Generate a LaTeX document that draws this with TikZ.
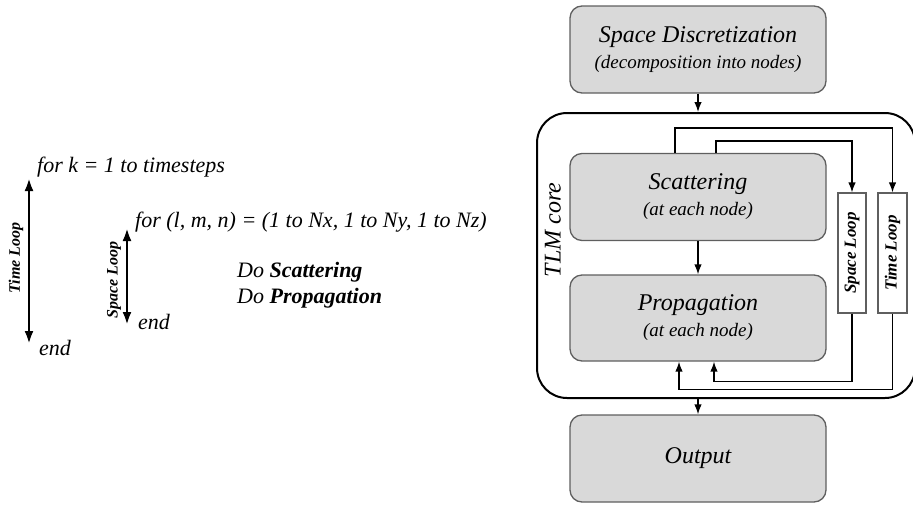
\documentclass[tikz,border=0pt]{standalone}
\usepackage{fontspec}
\setmainfont{Liberation Serif}
\usetikzlibrary{arrows.meta}
\definecolor{lgray}{RGB}{217,217,217}
\definecolor{dgray}{RGB}{95,95,95}
\tikzset{
      stage/.style={draw=dgray, fill=lgray, line width=1.3, rounded corners=12, minimum width=256, minimum height=87, align=center, font=\itshape\fontsize{24}{28}\selectfont},
      loopbox/.style={draw=dgray, fill=white, line width=1.1, minimum width=28, minimum height=120},
      looptxt/.style={rotate=90, font=\bfseries\itshape\fontsize{17}{19}\selectfont},
      frame/.style={draw=black, line width=2, rounded corners=30, minimum width=378, minimum height=285},
      flow/.style={-{Latex[length=10pt,width=7.5pt]}, draw=black, line width=1.4},
      dloop/.style={{Latex[length=13pt,width=9pt]}-{Latex[length=13pt,width=9pt]}, draw=black, line width=2.8},
      code/.style={anchor=base west, inner sep=0, font=\itshape\fontsize{22}{24}\selectfont},
}

\begin{document}
\begin{tikzpicture}[x=1pt, y=-1pt]
        \useasboundingbox (0,0) rectangle (913,504) ;

        % pseudo code
        \node[code] (fork) at (37,172) {for k = 1 to timesteps} ;
        \node[code] (forl) at (135,227) {for (l, m, n) = (1 to Nx, 1 to Ny, 1 to Nz)} ;
        \node[code] (doscat) at (237,277) {Do \textbf{Scattering}} ;
        \node[code] (doprop) at (237,303) {Do \textbf{Propagation}} ;
        \node[code] (endl) at (138,329) {end} ;
        \node[code] (endk) at (39,355) {end} ;

        \coordinate (tltop) at (29,178) ;
        \coordinate (tlbot) at (29,344) ;
        \coordinate (sltop) at (127,228) ;
        \coordinate (slbot) at (127,325) ;
        \draw[dloop] (tltop) -- (tlbot) ;
        \draw[dloop] (sltop) -- (slbot) ;
        \node[looptxt, font=\bfseries\itshape\fontsize{16}{18}\selectfont] (tllab) at (16,258) {Time Loop} ;
        \node[looptxt, font=\bfseries\itshape\fontsize{16}{18}\selectfont] (sllab) at (114,280) {Space Loop} ;

        % flow chart
        \node[stage] (sd) at (698,49.5) {Space Discretization\\[-2pt]{\fontsize{19}{21}\selectfont (decomposition into nodes)}} ;
        \node[frame] (core) at (726,255.5) {} ;
        \node[rotate=90, font=\itshape\fontsize{24}{26}\selectfont] (corelab) at (553,230) {TLM core} ;
        \node[stage] (scat) at (698,197) {Scattering\\[-2pt]{\fontsize{19}{21}\selectfont (at each node)}} ;
        \node[stage, minimum height=86] (prop) at (698,318) {Propagation\\[-2pt]{\fontsize{19}{21}\selectfont (at each node)}} ;
        \node[stage] (out) at (698,458.5) {Output} ;

        \node[loopbox] (sloop) at (852,253) {} ;
        \node[loopbox, minimum width=29] (tloop) at (892.5,253) {} ;
        \node[looptxt] at (sloop) {Space Loop} ;
        \node[looptxt] at (tloop) {Time Loop} ;

        \draw[flow] (sd.south) -- (sd.south |- core.north) ;
        \draw[flow] (scat) -- (prop) ;
        \draw[flow] (core.south -| out.north) -- (out.north) ;

        \draw[flow] ([xshift=18pt]scat.north) -- ++(0,-12) -| (sloop.north) ;
        \draw[flow] ([xshift=-23pt]scat.north) -- ++(0,-25) -| (tloop.north) ;
        \draw[flow] (sloop.south) -- ++(0,68) -| ([xshift=16pt]prop.south) ;
        \draw[flow] (tloop.south) -- ++(0,76) -| ([xshift=-19pt]prop.south) ;

\end{tikzpicture}
\end{document}
